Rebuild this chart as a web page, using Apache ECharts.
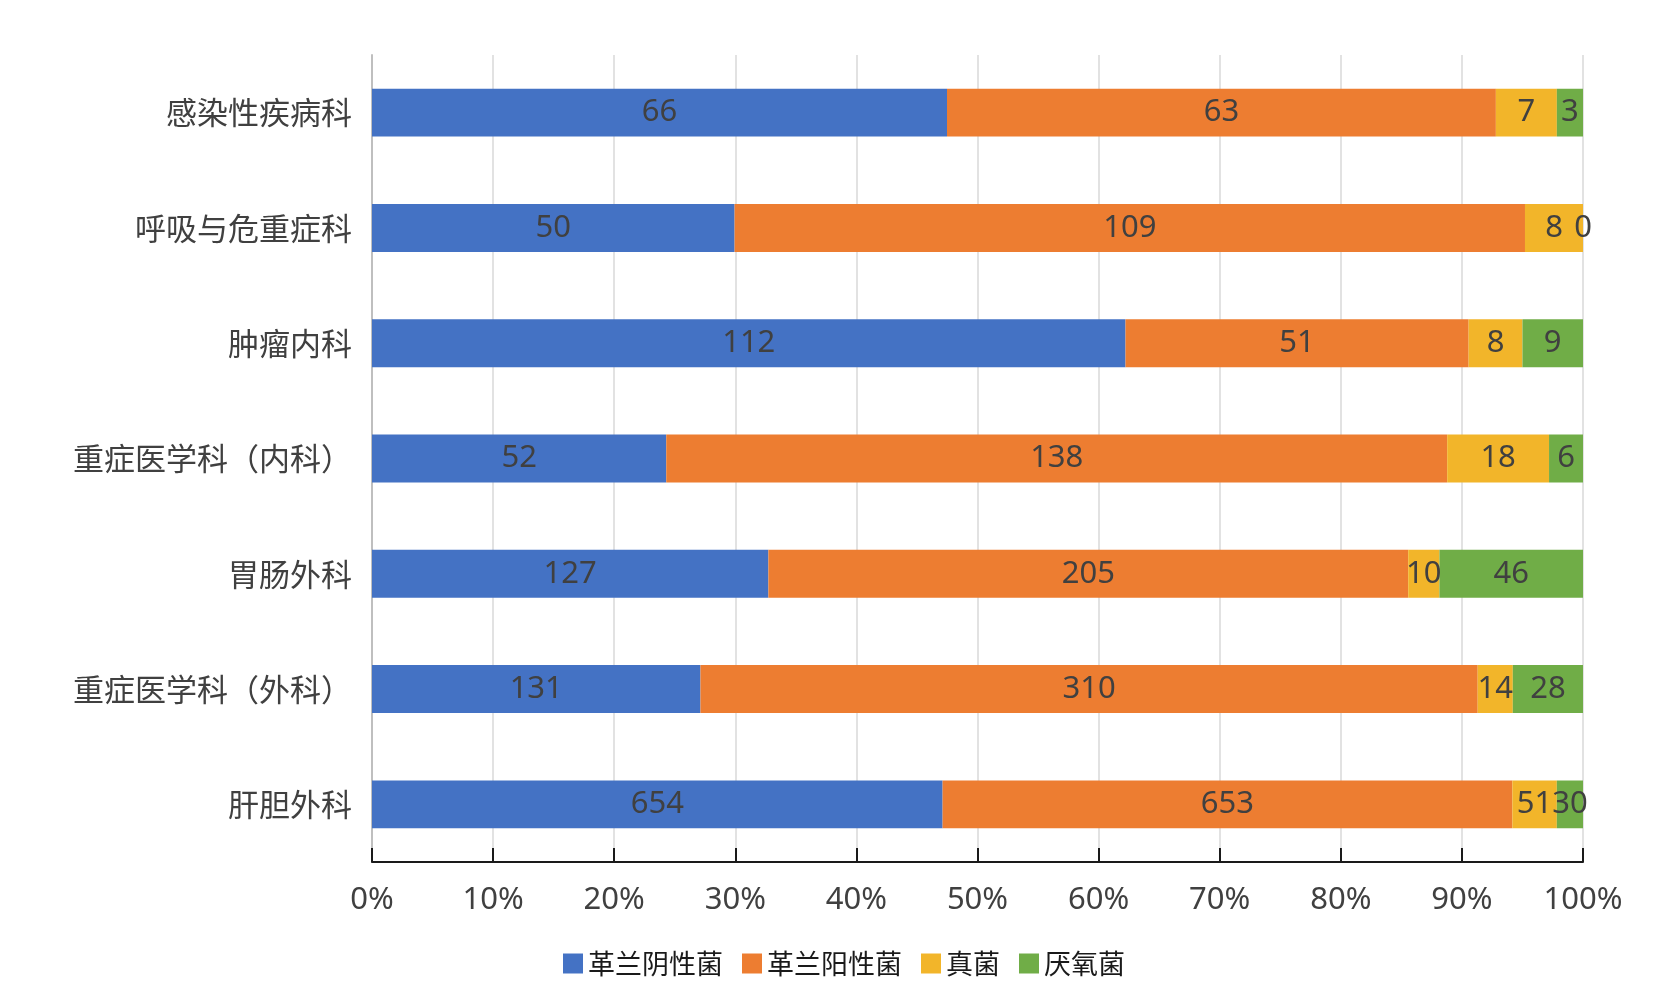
<!DOCTYPE html>
<html><head><meta charset="utf-8">
<script src="https://cdn.jsdelivr.net/npm/echarts@6/dist/echarts.min.js"></script>
<style>html,body{margin:0;padding:0;background:#fff;}#c{width:1668px;height:1003px;}</style>
</head><body><div id="c"></div>
<script>
const categories = ['感染性疾病科','呼吸与危重症科','肿瘤内科','重症医学科（内科）','胃肠外科','重症医学科（外科）','肝胆外科'];
const seriesNames = ['革兰阴性菌','革兰阳性菌','真菌','厌氧菌'];
const gramNeg = [66, 50, 112, 52, 127, 131, 654];
const gramPos = [63, 109, 51, 138, 205, 310, 653];
const fungi = [7, 8, 8, 18, 10, 14, 51];
const anaerobe = [3, 0, 9, 6, 46, 28, 30];
const colors = ['#4472C4','#ED7D31','#F2B52A','#70AD47'];
const xTicks = [0,10,20,30,40,50,60,70,80,90,100];

const raw = [gramNeg, gramPos, fungi, anaerobe];
const totals = categories.map((_, i) => raw.reduce((s, a) => s + a[i], 0));

const chart = echarts.init(document.getElementById('c'));
chart.setOption({
  animation: false,
  backgroundColor: '#fff',
  grid: {left: 372, right: 85, top: 55, bottom: 141, containLabel: false},
  legend: {
    left: 558, top: 945,
    itemWidth: 20, itemHeight: 20, itemGap: 19,
    icon: 'rect',
    textStyle: {fontSize: 27, color: '#1a1a1a', fontFamily: 'Noto Sans CJK SC'},
    data: seriesNames
  },
  xAxis: {
    type: 'value', min: 0, max: 100, interval: 10,
    axisLine: {show: true, lineStyle: {color: '#1a1a1a', width: 2}},
    axisTick: {show: true, inside: true, length: 14, lineStyle: {color: '#1a1a1a', width: 2}},
    splitLine: {show: true, lineStyle: {color: '#d9d9d9', width: 1.5}},
    axisLabel: {formatter: v => xTicks.includes(v) ? v + '%' : '', fontSize: 31, color: '#404040', margin: 23, fontFamily: 'Noto Sans'}
  },
  yAxis: {
    type: 'category', data: categories, inverse: true,
    axisLine: {show: true, lineStyle: {color: '#bfbfbf', width: 2}},
    axisTick: {show: false},
    axisLabel: {fontSize: 31, color: '#404040', margin: 20, fontFamily: 'Noto Sans CJK SC'}
  },
  series: seriesNames.map((name, k) => ({
    name, type: 'bar', stack: 'total',
    barWidth: '41.6%',
    itemStyle: {color: colors[k]},
    label: {
      show: true, position: 'inside',
      fontSize: 31, color: '#404040', fontFamily: 'Noto Sans',
      formatter: p => String(raw[k][p.dataIndex])
    },
    data: raw[k].map((v, i) => v / totals[i] * 100)
  }))
});
</script></body></html>
